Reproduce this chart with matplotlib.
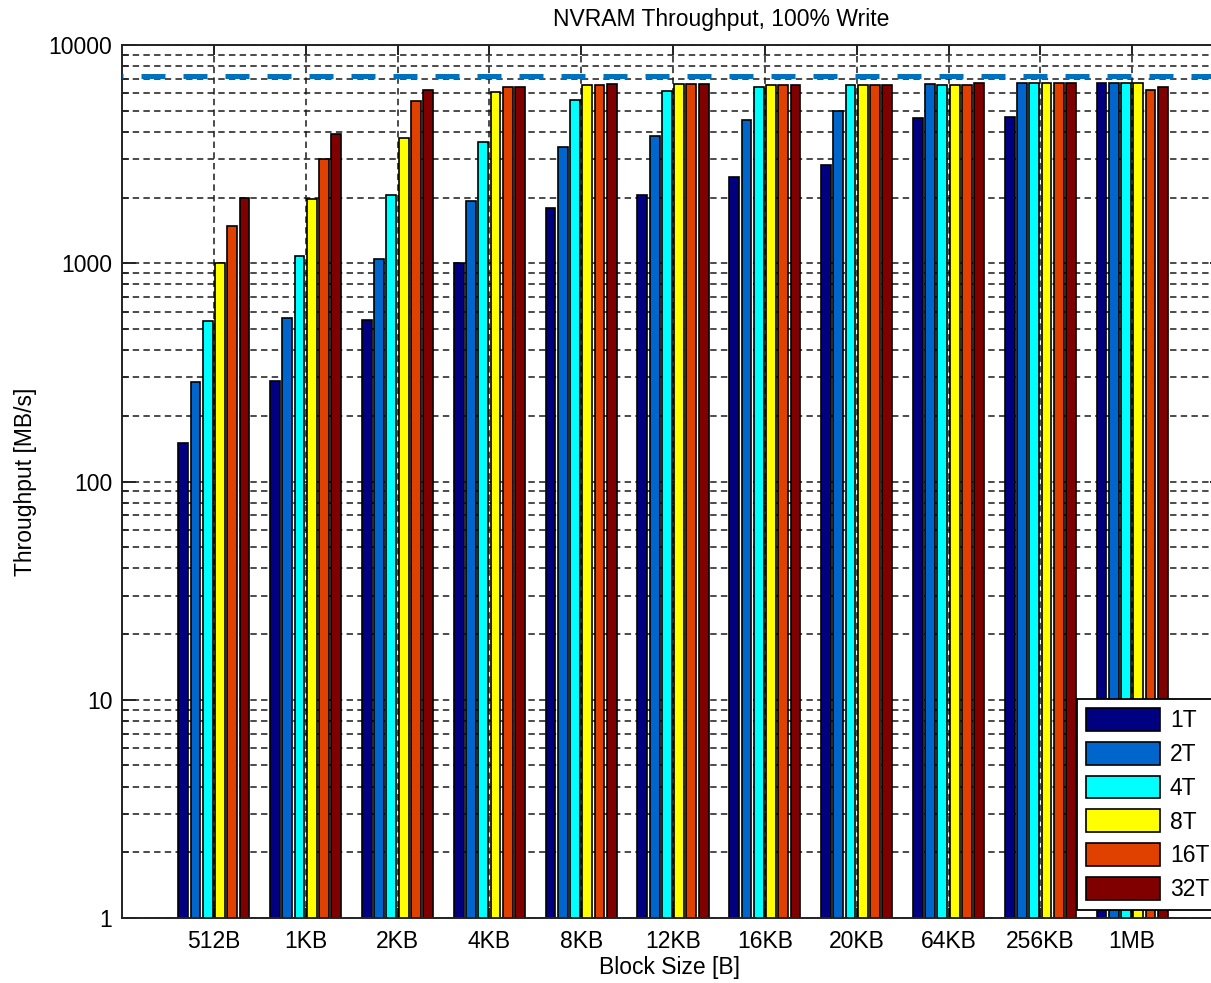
import numpy as np
import matplotlib.pyplot as plt
from matplotlib.ticker import FixedLocator, FixedFormatter, LogLocator, NullFormatter

plt.rcParams['font.family'] = ['Liberation Sans', 'DejaVu Sans']

# Data
block_sizes = ['512B', '1KB', '2KB', '4KB', '8KB', '12KB', '16KB', '20KB', '64KB', '256KB', '1MB']
threads = ['1T', '2T', '4T', '8T', '16T', '32T']

t1 = [150, 289, 548, 1000, 1800, 2050, 2490, 2820, 4610, 4690, 6720]
t2 = [286, 560, 1042, 1935, 3420, 3830, 4530, 4990, 6600, 6720, 6720]
t4 = [545, 1080, 2048, 3600, 5580, 6135, 6440, 6560, 6560, 6720, 6720]
t8 = [1000, 1970, 3740, 6110, 6560, 6620, 6560, 6560, 6560, 6720, 6720]
t16 = [1485, 2995, 5555, 6440, 6560, 6620, 6560, 6560, 6560, 6720, 6220]
t32 = [1985, 3900, 6220, 6440, 6600, 6620, 6560, 6560, 6720, 6720, 6440]
series = [t1, t2, t4, t8, t16, t32]

peak = 7200  # dashed reference line

colors = ['#000080', '#0066CC', '#00FFFF', '#FFFF00', '#E04000', '#800000']

W, H = 1211, 983
fs = 16.5
fig = plt.figure(figsize=(W / 100, H / 100), dpi=100)
ax = fig.add_axes([122 / W, (H - 918) / H, (1224 - 122) / W, (918 - 45) / H])

x = np.arange(1, len(block_sizes) + 1)
step = 0.8 / len(threads)
for i, (vals, c, lab) in enumerate(zip(series, colors, threads)):
    ax.bar(x + (i - 2.5) * step, vals, width=step * 0.8, color=c,
           edgecolor='black', linewidth=1.2, label=lab, zorder=2)

ax.axhline(peak, color='#0072BD', linewidth=3.6, linestyle=(4.6, (4.8, 3.6)),
           dash_capstyle='butt', zorder=3)

ax.set_yscale('log')
ax.set_ylim(1, 10000)
ax.set_xlim(0, 12)

ax.xaxis.set_major_locator(FixedLocator(x))
ax.xaxis.set_major_formatter(FixedFormatter(block_sizes))
ax.yaxis.set_major_locator(FixedLocator([1, 10, 100, 1000, 10000]))
ax.yaxis.set_major_formatter(FixedFormatter(['1', '10', '100', '1000', '10000']))
ax.yaxis.set_minor_locator(LogLocator(base=10, subs=np.arange(2, 10)))
ax.yaxis.set_minor_formatter(NullFormatter())

ax.tick_params(which='both', direction='in', top=True, right=True, labelsize=fs,
               color='#222222')
ax.tick_params(axis='y', which='major', length=10, width=1.4, pad=7)
ax.tick_params(axis='y', which='minor', length=5, width=1.1)
ax.tick_params(axis='x', which='major', length=7, width=1.4, pad=9)

grid_kw = dict(color='#1a1a1a', linestyle=(0, (4.2, 2.8)), linewidth=1.1)
ax.yaxis.grid(True, which='both', **grid_kw)
ax.xaxis.grid(True, which='major', **grid_kw)
ax.set_axisbelow(True)

for s in ax.spines.values():
    s.set_linewidth(1.4)
    s.set_color('#222222')

ax.set_xlabel('Block Size [B]', fontsize=fs)
ax.xaxis.set_label_coords(0.497, -0.043)
ax.set_ylabel('Throughput [MB/s]', fontsize=fs)
ax.yaxis.set_label_coords(-0.077, 0.5)

fig.text(721 / W, 1 - 26 / H, 'NVRAM Throughput, 100% Write', ha='center',
         va='baseline', fontsize=fs)

leg = ax.legend(loc='upper left', bbox_to_anchor=(1077 / W, 1 - 699 / H),
                bbox_transform=fig.transFigure, fontsize=fs, fancybox=False,
                framealpha=1, edgecolor='black', handlelength=3.2,
                handleheight=1.15, labelspacing=0.42, handletextpad=0.45,
                borderpad=0.4, borderaxespad=0)
leg.get_frame().set_linewidth(1.3)
leg.set_zorder(5)

fig.savefig('out.png', dpi=100)
